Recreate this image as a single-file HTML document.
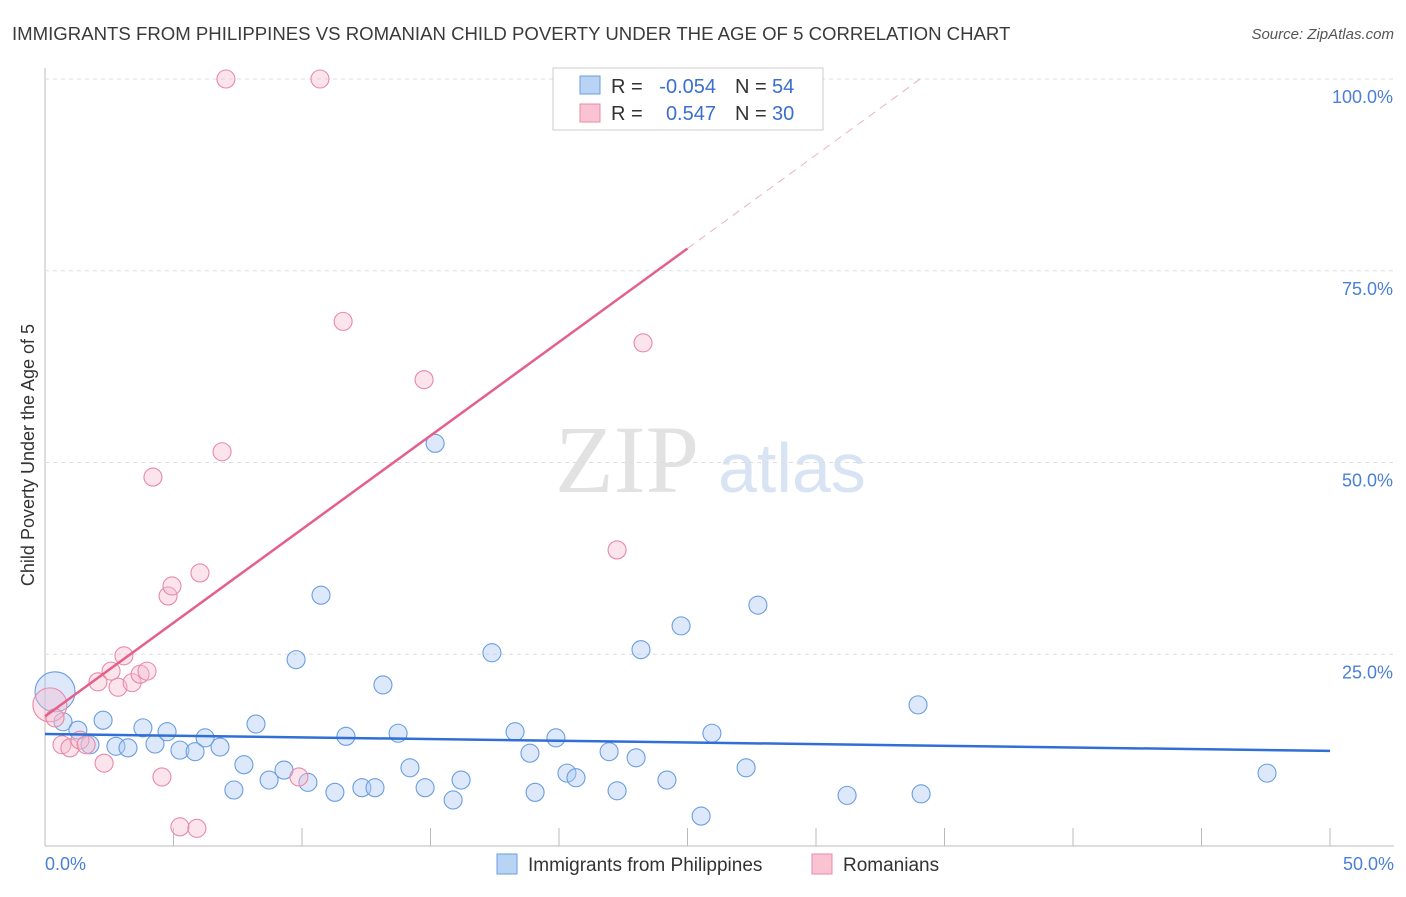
<!DOCTYPE html>
<html><head><meta charset="utf-8"><style>
body{margin:0;background:#fff;font-family:"Liberation Sans",sans-serif;}
</style></head><body>
<svg id="c" width="1406" height="892" xmlns="http://www.w3.org/2000/svg">
<text x="12" y="40" font-size="18.6" fill="#3a3a3a">IMMIGRANTS FROM PHILIPPINES VS ROMANIAN CHILD POVERTY UNDER THE AGE OF 5 CORRELATION CHART</text>
<text x="1394" y="39" font-size="15" fill="#555" font-style="italic" text-anchor="end">Source: ZipAtlas.com</text>
<text x="0" y="0" transform="translate(34,455) rotate(-90)" font-size="18" fill="#333" text-anchor="middle">Child Poverty Under the Age of 5</text>
<text x="555" y="492" font-size="96" fill="#e2e2e2" font-family="Liberation Serif">ZIP</text>
<text x="718" y="492" font-size="70" fill="#d8e4f4">atlas</text>
<g id="grid"></g><g id="pts"></g><g id="lines"></g>
<g>
<rect x="553" y="68" width="270" height="62" fill="#fff" stroke="#ccc"/>
<rect x="580" y="76" width="20" height="18" fill="#b9d3f5" stroke="#6a9ee0"/>
<rect x="580" y="104" width="20" height="18" fill="#f9c3d3" stroke="#e88aa6"/>
<text x="611" y="93" font-size="20" fill="#333">R =</text>
<text x="716" y="93" font-size="20" fill="#3a6fd0" text-anchor="end">-0.054</text>
<text x="735" y="93" font-size="20" fill="#333">N =</text>
<text x="772" y="93" font-size="20" fill="#3a6fd0">54</text>
<text x="611" y="120" font-size="20" fill="#333">R =</text>
<text x="716" y="120" font-size="20" fill="#3a6fd0" text-anchor="end">0.547</text>
<text x="735" y="120" font-size="20" fill="#333">N =</text>
<text x="772" y="120" font-size="20" fill="#3a6fd0">30</text>
</g>
<g>
<rect x="497" y="854" width="20" height="20" fill="#b9d3f5" stroke="#6a9ee0"/>
<text x="528" y="871" font-size="19" fill="#333">Immigrants from Philippines</text>
<rect x="812" y="854" width="20" height="20" fill="#f9c3d3" stroke="#e88aa6"/>
<text x="843" y="871" font-size="19" fill="#333">Romanians</text>
</g>
</svg>
<script>
const blueX=[0.39,0.70,1.28,1.75,2.26,2.76,3.23,3.81,4.28,4.75,5.25,5.84,6.23,6.81,7.35,7.74,8.21,8.72,9.30,9.77,10.23,10.74,11.28,11.71,12.33,12.84,13.15,13.74,14.20,14.79,15.18,15.88,16.19,17.39,18.29,18.87,19.07,19.88,20.31,20.66,21.95,22.26,23.0,23.19,24.2,24.75,25.53,25.95,27.28,27.74,31.21,33.97,34.09,47.55];
const blueY=[20.1,16.2,15.1,13.2,16.4,13.0,12.8,15.4,13.3,14.9,12.5,12.3,14.1,12.9,7.3,10.6,15.9,8.6,9.9,24.3,8.3,32.7,7.0,14.3,7.6,7.6,21.0,14.7,10.2,7.6,52.5,6.0,8.6,25.2,14.9,12.1,7.0,14.1,9.5,8.9,12.3,7.2,11.5,25.6,8.6,28.7,3.9,14.7,10.2,31.4,6.6,18.4,6.8,9.5];
const pinkX=[0.19,0.39,0.66,0.97,1.36,1.6,2.06,2.3,2.57,2.84,3.07,3.39,3.70,3.97,4.2,4.55,4.79,4.94,5.25,5.91,6.03,6.89,7.04,9.88,10.7,11.6,14.75,22.26,23.27];
const pinkY=[18.4,16.7,13.2,12.8,13.8,13.2,21.4,10.8,22.8,20.7,24.8,21.3,22.4,22.8,48.1,9.0,32.6,33.9,2.5,2.3,35.6,51.4,100,9.0,100,68.4,60.8,38.6,65.6];
const blueTrend=[14.6,-0.044];
const pinkTrend=[16.9,2.44];
const yTicks=[25,50,75,100];
const yTickLabels=["25.0%","50.0%","75.0%","100.0%"];
const xTicks=[0,5,10,15,20,25,30,35,40,45,50];
const X=v=>45+v*25.7, Y=v=>846-v*7.67;
const NS="http://www.w3.org/2000/svg";
function mk(p,t,a){const e=document.createElementNS(NS,t);for(const k in a)e.setAttribute(k,a[k]);p.appendChild(e);return e;}
const g=document.getElementById('grid');
let ax=mk(g,'line',{x1:45,y1:68,x2:45,y2:846,stroke:'#bbb'});


let bx=mk(g,'line',{x1:45,y1:846,x2:1394,y2:846,stroke:'#bbb'});


yTicks.forEach((v,i)=>{
 const l=mk(g,'line',{x1:45,y1:Y(v),x2:1394,y2:Y(v),stroke:'#ddd','stroke-dasharray':'4,4'});
 
 
 const t=mk(g,'text',{x:1393,y:Y(v)+24,'font-size':18,fill:'#4a7fd8','text-anchor':'end'});
 t.textContent=yTickLabels[i];
 
 
});
xTicks.forEach(v=>{
 const l=mk(g,'line',{x1:X(v),y1:828,x2:X(v),y2:846,stroke:'#bbb'});
 
 
});
let t0=mk(g,'text',{x:45,y:870,'font-size':18,fill:'#4a7fd8'});t0.textContent='0.0%';


let t1=mk(g,'text',{x:1394,y:870,'font-size':18,fill:'#4a7fd8','text-anchor':'end'});t1.textContent='50.0%';


const P=document.getElementById('pts');
blueX.forEach((x,i)=>{
 const c=mk(P,'circle',{cx:X(x),cy:Y(blueY[i]),r:i==0?20:9,fill:'rgba(170,200,242,0.4)',stroke:'#6a9ee0','stroke-width':1.1});
 
 
});
pinkX.forEach((x,i)=>{
 const c=mk(P,'circle',{cx:X(x),cy:Y(pinkY[i]),r:i==0?17:9,fill:'rgba(248,185,205,0.38)',stroke:'#e88aa6','stroke-width':1.1});
 
 
});
const L=document.getElementById('lines');
let bl=mk(L,'line',{x1:X(0),y1:Y(blueTrend[0]),x2:X(50),y2:Y(blueTrend[0]+blueTrend[1]*50),stroke:'#2f6fd6','stroke-width':2.5});


const pe=25, pEnd=(100-pinkTrend[0])/pinkTrend[1];
let pl=mk(L,'line',{x1:X(0),y1:Y(pinkTrend[0]),x2:X(pe),y2:Y(pinkTrend[0]+pinkTrend[1]*pe),stroke:'#e4608b','stroke-width':2.5});


let pd=mk(L,'line',{x1:X(pe),y1:Y(pinkTrend[0]+pinkTrend[1]*pe),x2:X(pEnd),y2:Y(100),stroke:'#eeb0c4','stroke-width':1,'stroke-dasharray':'8,6'});


</script>
</body></html>
